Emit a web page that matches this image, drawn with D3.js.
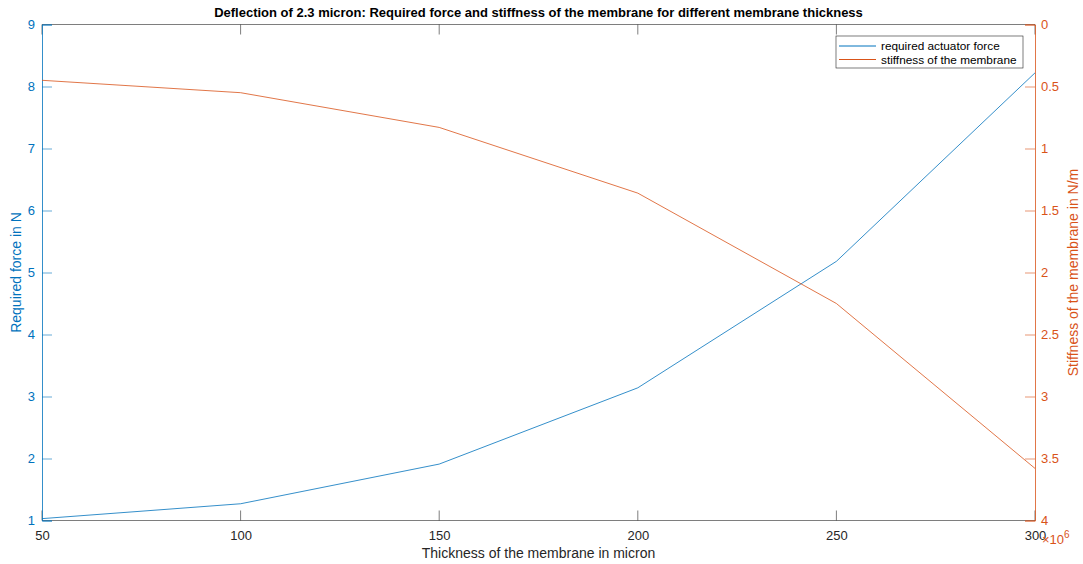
<!DOCTYPE html>
<html>
<head>
<meta charset="utf-8">
<script src="https://d3js.org/d3.v7.min.js"></script>
<style>
  body { margin: 0; background: #fff; }
  svg { font-family: "Liberation Sans", Arial, sans-serif; }
</style>
</head>
<body>
<svg width="1083" height="564"></svg>
<script>
// data
var thickness = [50, 100, 150, 200, 250, 300];
var force = [1.03, 1.27, 1.91, 3.14, 5.18, 8.22];
var stiffness = [0.45, 0.55, 0.83, 1.36, 2.25, 3.58]; // x10^6 N/m
var xTicks = [50, 100, 150, 200, 250, 300];
var leftTicks = [1, 2, 3, 4, 5, 6, 7, 8, 9];
var rightTicks = [0, 0.5, 1, 1.5, 2, 2.5, 3, 3.5, 4];
var seriesNames = ["required actuator force", "stiffness of the membrane"];
var seriesColors = ["#0072BD", "#D95319"];

var blue = "#0072BD", orange = "#D95319", dark = "#262626";

var svg = d3.select("svg");
var pLeft = 42, pRight = 1035, pTop = 24.5, pBottom = 520.5;

var x = d3.scaleLinear().domain([50, 300]).range([pLeft, pRight]);
var yL = d3.scaleLinear().domain([1, 9]).range([pBottom, pTop]);
var yR = d3.scaleLinear().domain([0, 4]).range([pTop, pBottom]);

// box top / bottom
svg.append("line").attr("x1", pLeft).attr("x2", pRight).attr("y1", pTop).attr("y2", pTop)
  .attr("stroke", dark).attr("stroke-width", 0.6);
svg.append("line").attr("x1", pLeft).attr("x2", pRight).attr("y1", pBottom).attr("y2", pBottom)
  .attr("stroke", dark).attr("stroke-width", 0.6);

// x axis
var gx = svg.append("g").attr("transform", "translate(0," + pBottom + ")")
  .call(d3.axisBottom(x).tickValues(xTicks).tickSize(0).tickPadding(10));
gx.select(".domain").remove();
gx.selectAll("text").attr("font-size", 13).attr("fill", dark).attr("font-family", null);
svg.append("g").selectAll("line").data(xTicks).enter().append("line")
  .attr("x1", d => x(d)).attr("x2", d => x(d)).attr("y1", pBottom).attr("y2", pBottom - 10)
  .attr("stroke", dark).attr("stroke-width", 0.6);
svg.append("g").selectAll("line").data(xTicks).enter().append("line")
  .attr("x1", d => x(d)).attr("x2", d => x(d)).attr("y1", pTop).attr("y2", pTop + 10)
  .attr("stroke", dark).attr("stroke-width", 0.6);

// left axis
var gl = svg.append("g").attr("transform", "translate(" + pLeft + ",0)")
  .call(d3.axisLeft(yL).tickValues(leftTicks).tickSize(-10).tickPadding(7));
gl.select(".domain").attr("stroke", blue).attr("stroke-width", 0.8);
gl.selectAll(".tick line").attr("stroke", blue).attr("stroke-width", 0.6);
gl.selectAll("text").attr("font-size", 13).attr("fill", blue).attr("font-family", null);

// right axis
var gr = svg.append("g").attr("transform", "translate(" + pRight + ",0)")
  .call(d3.axisRight(yR).tickValues(rightTicks).tickSize(-10).tickPadding(6)
    .tickFormat(d3.format("~g")));
gr.select(".domain").attr("stroke", orange).attr("stroke-width", 0.8);
gr.selectAll(".tick line").attr("stroke", orange).attr("stroke-width", 0.6);
gr.selectAll("text").attr("font-size", 13).attr("fill", orange).attr("font-family", null);

// exponent label
var ex = svg.append("text").attr("x", pRight + 7).attr("y", 544).attr("font-size", 13).attr("fill", orange);
ex.append("tspan").text("\u00d710");
ex.append("tspan").attr("dy", -6).attr("font-size", 10).text("6");

// lines
var lineL = d3.line().x((d, i) => x(thickness[i])).y(d => yL(d));
var lineR = d3.line().x((d, i) => x(thickness[i])).y(d => yR(d));
svg.append("path").datum(force).attr("d", lineL).attr("fill", "none")
  .attr("stroke", blue).attr("stroke-width", 0.8);
svg.append("path").datum(stiffness).attr("d", lineR).attr("fill", "none")
  .attr("stroke", orange).attr("stroke-width", 0.8);

// title and labels
svg.append("text").attr("x", (pLeft + pRight) / 2).attr("y", 17).attr("text-anchor", "middle")
  .attr("font-size", 13).attr("font-weight", "bold").attr("fill", "#000")
  .text("Deflection of 2.3 micron: Required force and stiffness of the membrane for different membrane thickness");
svg.append("text").attr("x", (pLeft + pRight) / 2).attr("y", 558).attr("text-anchor", "middle")
  .attr("font-size", 14).attr("fill", dark).text("Thickness of the membrane in micron");
svg.append("text").attr("transform", "translate(21," + (pTop + pBottom) / 2 + ") rotate(-90)")
  .attr("text-anchor", "middle").attr("font-size", 14).attr("fill", blue).text("Required force in N");
svg.append("text").attr("transform", "translate(1078," + (pTop + pBottom) / 2 + ") rotate(-90)")
  .attr("text-anchor", "middle").attr("font-size", 14).attr("fill", orange).text("Stiffness of the membrane in N/m");

// legend
var lg = svg.append("g").attr("transform", "translate(836,36)");
lg.append("rect").attr("width", 187).attr("height", 32).attr("fill", "#fff")
  .attr("stroke", dark).attr("stroke-width", 0.6);
seriesNames.forEach(function(name, i) {
  var yy = 10 + i * 13.5;
  lg.append("path")
    .attr("d", "M3," + yy + "H40")
    .style("stroke", seriesColors[i])
    .style("stroke-width", "1px")
    .style("fill", "none");
  lg.append("text").attr("x", 45).attr("y", yy + 4).attr("font-size", 11.8).attr("fill", "#000")
    .text(name);
});
</script>
</body>
</html>
